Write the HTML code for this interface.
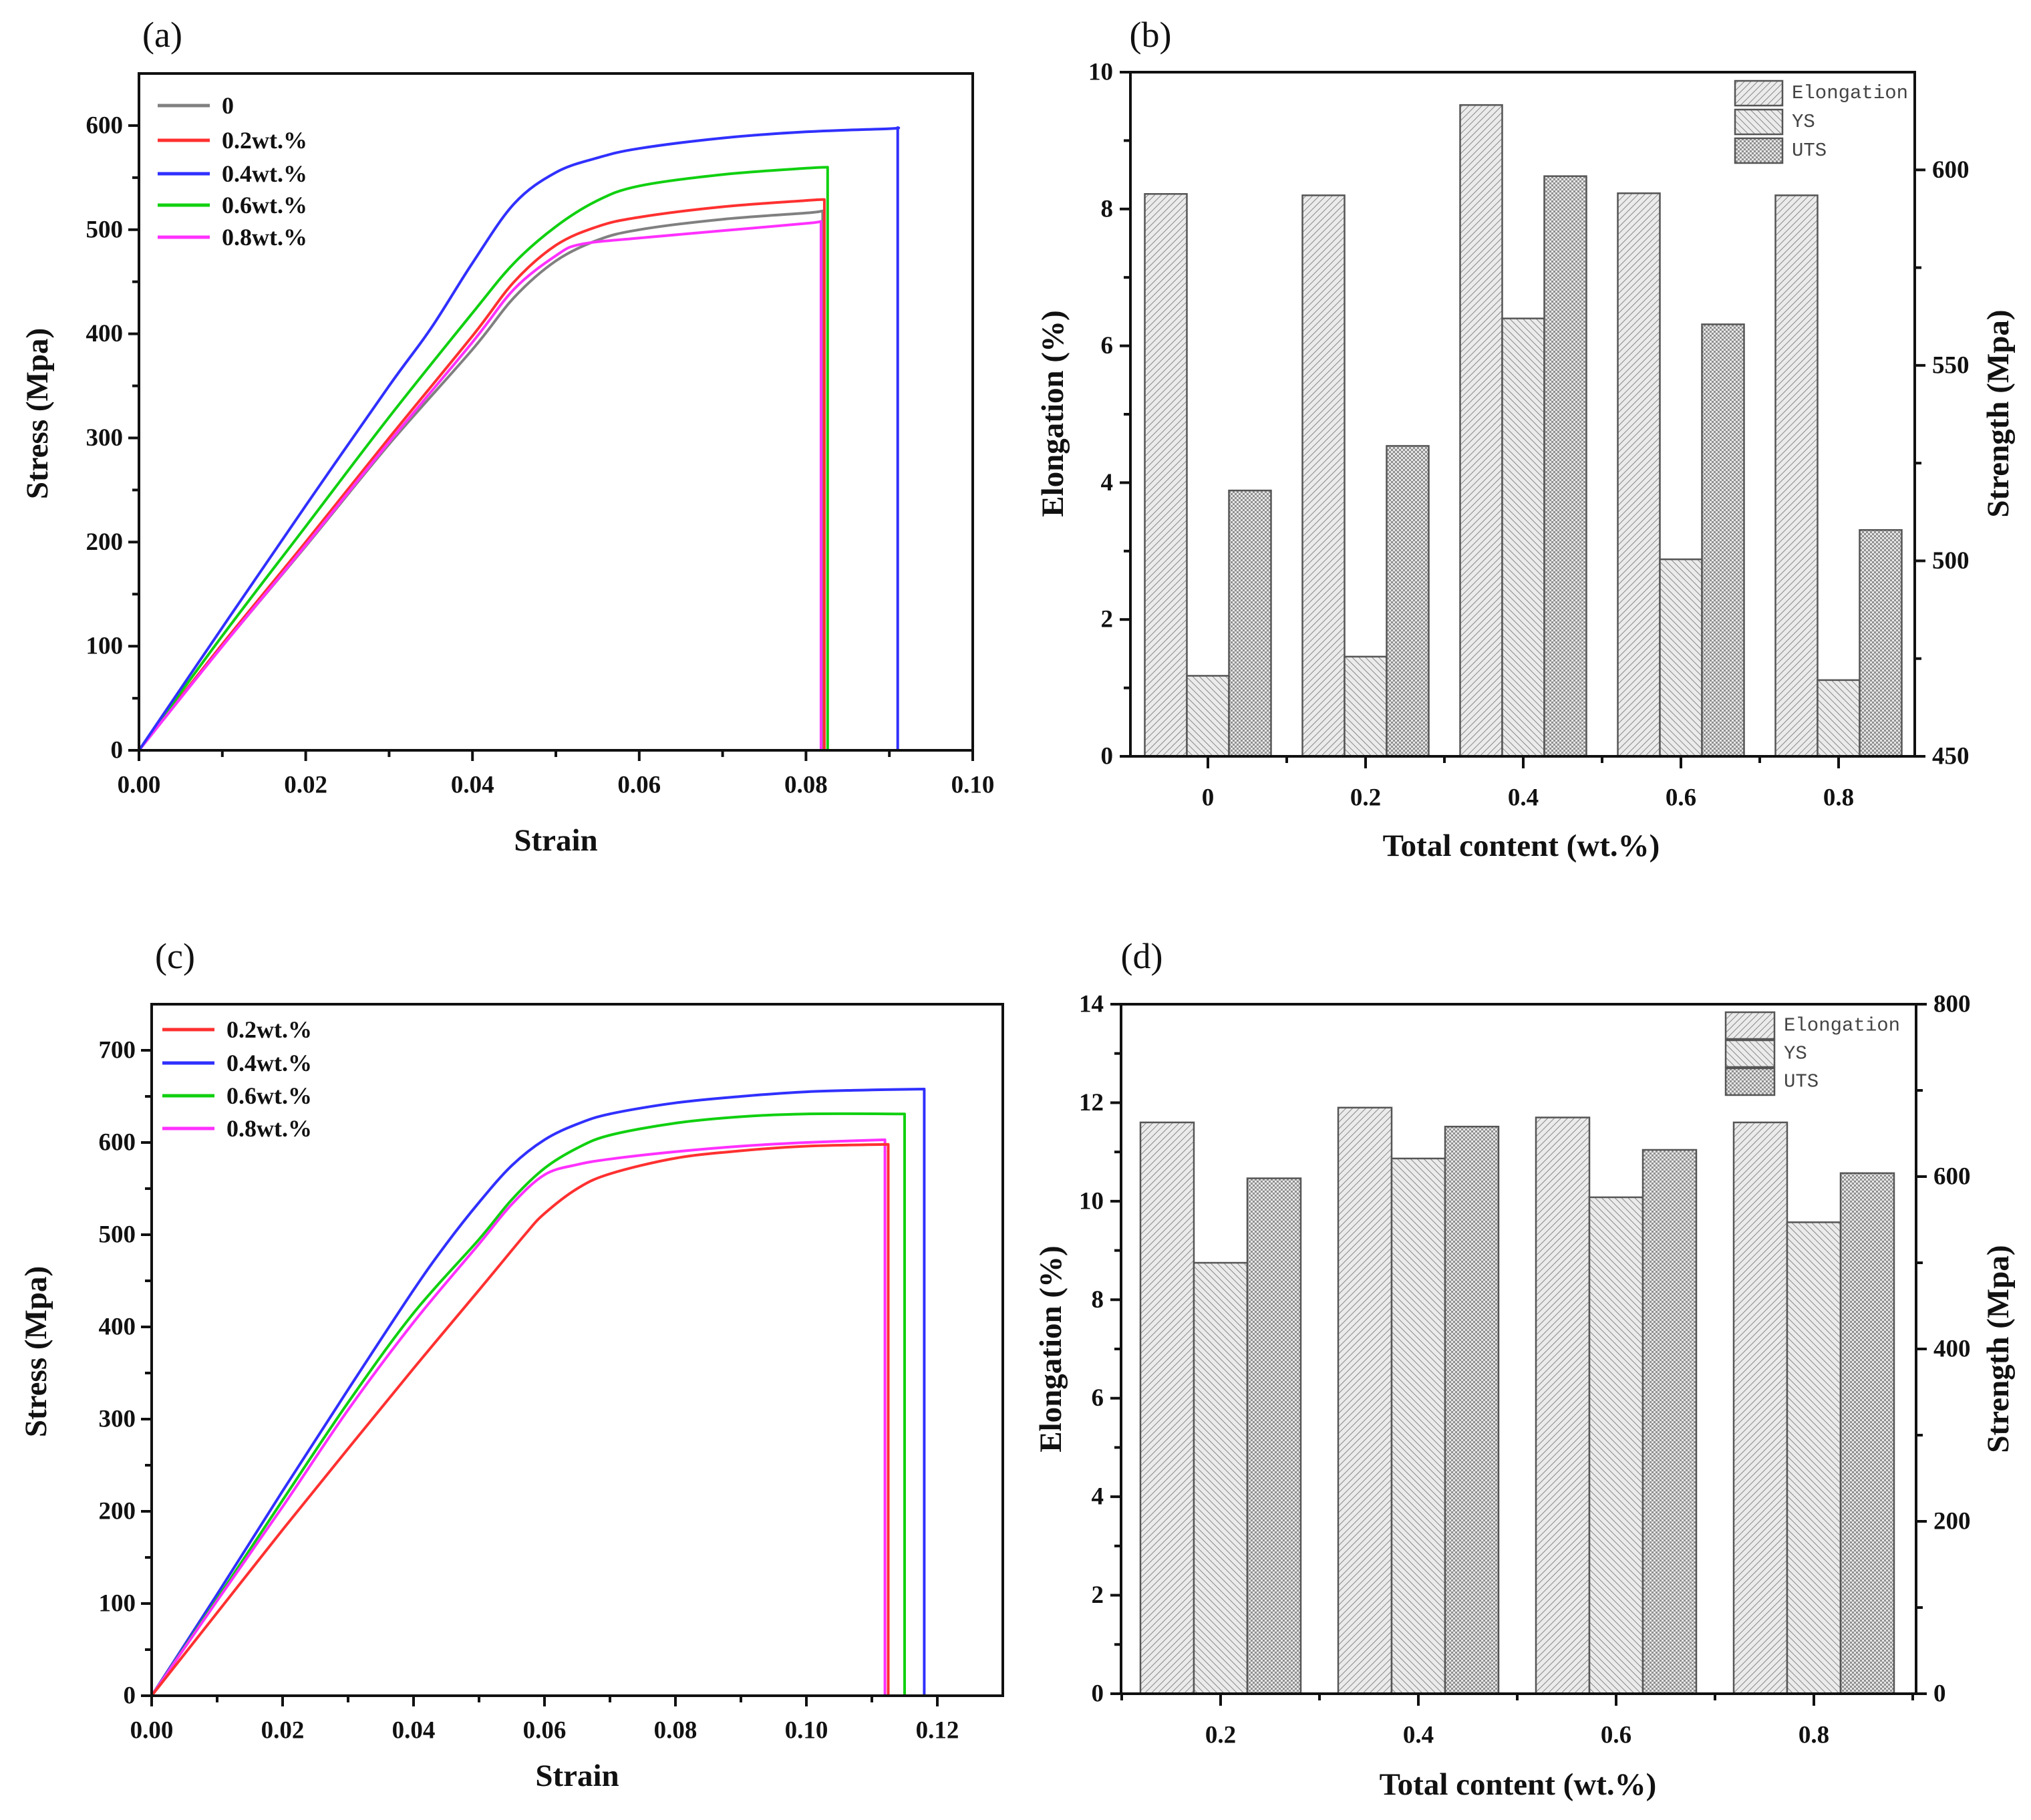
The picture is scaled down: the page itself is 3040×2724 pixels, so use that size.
<!DOCTYPE html>
<html><head><meta charset="utf-8"><style>
html,body{margin:0;padding:0;background:#fff}
svg{display:block}
text{font-family:"Liberation Serif",serif}
.tk{font-size:37px;font-weight:bold;fill:#111}
.ti{font-size:47px;font-weight:bold;fill:#111}
.lg{font-size:36px;font-weight:bold;fill:#111}
.pl{font-size:54px;fill:#111}
.bl{font-family:"Liberation Mono",monospace;font-size:29px;fill:#444}
</style></head><body>
<svg id="fig" width="3040" height="2724" viewBox="0 0 3040 2724" xmlns="http://www.w3.org/2000/svg">
<defs>
<pattern id="pElong" patternUnits="userSpaceOnUse" width="7" height="7" patternTransform="rotate(45)"><rect width="7" height="7" fill="#ebebeb"/><line x1="0" y1="0" x2="0" y2="7" stroke="#888" stroke-width="2"/></pattern>
<pattern id="pYS" patternUnits="userSpaceOnUse" width="7" height="7" patternTransform="rotate(-45)"><rect width="7" height="7" fill="#ebebeb"/><line x1="0" y1="0" x2="0" y2="7" stroke="#888" stroke-width="2"/></pattern>
<pattern id="pUTS" patternUnits="userSpaceOnUse" width="6" height="6"><rect width="6" height="6" fill="#e6e6e6"/><rect width="3" height="3" fill="#909090"/><rect x="3" y="3" width="3" height="3" fill="#909090"/></pattern>
</defs>
<g id="root"></g>
</svg>
<script>
// ---------- Panel (a) data ----------
const aSeriesNames = ["0","0.2wt.%","0.4wt.%","0.6wt.%","0.8wt.%"];
const aColors = ["#808080","#ff3030","#3030ff","#10d010","#ff30ff"];
const aStrain0 = [0,0.01,0.02,0.03,0.04,0.045,0.05,0.055,0.06,0.07,0.08,0.082,0.082];
const aStress0 = [0,100,196,294,385,435,470,490,500,510,516,518,0];
const aStrain02 = [0,0.01,0.02,0.03,0.04,0.045,0.05,0.055,0.06,0.07,0.08,0.0822,0.0822];
const aStress02 = [0,102,200,300,398,450,485,503,512,522,528,529,0];
const aStrain04 = [0,0.01,0.02,0.03,0.035,0.04,0.045,0.05,0.055,0.06,0.07,0.08,0.09,0.091,0.091];
const aStress04 = [0,118,235,350,405,468,525,555,569,578,588,594,597,598,0];
const aStrain06 = [0,0.01,0.02,0.03,0.04,0.045,0.05,0.055,0.06,0.07,0.08,0.0826,0.0826];
const aStress06 = [0,110,215,320,420,468,503,528,542,553,559,560,0];
const aStrain08 = [0,0.01,0.02,0.03,0.04,0.045,0.05,0.053,0.06,0.07,0.08,0.0818,0.0818];
const aStress08 = [0,100,197,296,392,443,475,486,492,499,506,508,0];
const aXTicks = ["0.00","0.02","0.04","0.06","0.08","0.10"];
const aYTicks = ["0","100","200","300","400","500","600"];
// ---------- Panel (c) data ----------
const cSeriesNames = ["0.2wt.%","0.4wt.%","0.6wt.%","0.8wt.%"];
const cColors = ["#ff3030","#3030ff","#10d010","#ff30ff"];
const cStrain02 = [0,0.01,0.02,0.03,0.04,0.05,0.057,0.06,0.065,0.07,0.08,0.09,0.1,0.1125,0.1125];
const cStress02 = [0,90,180,268,355,440,500,523,550,566,583,591,596,598,0];
const cStrain04 = [0,0.01,0.02,0.03,0.04,0.045,0.05,0.055,0.06,0.065,0.07,0.08,0.09,0.1,0.11,0.118,0.118];
const cStress04 = [0,110,222,332,440,490,535,575,603,620,631,643,650,655,657,658,0];
const cStrain06 = [0,0.01,0.02,0.03,0.04,0.05,0.055,0.06,0.065,0.07,0.08,0.09,0.1,0.115,0.115];
const cStress06 = [0,105,212,318,415,495,538,572,594,608,621,628,631,631,0];
const cStrain08 = [0,0.01,0.02,0.03,0.04,0.05,0.055,0.06,0.065,0.07,0.08,0.09,0.1,0.112,0.112];
const cStress08 = [0,103,205,310,405,490,533,565,576,582,590,596,600,603,0];
const cXTicks = ["0.00","0.02","0.04","0.06","0.08","0.10","0.12"];
const cYTicks = ["0","100","200","300","400","500","600","700"];
// ---------- Panel (b) data ----------
const bCategories = ["0","0.2","0.4","0.6","0.8"];
const bElongation = [8.22,8.2,9.52,8.23,8.2];
const bYS = [470.6,475.5,562,500.4,469.5];
const bUTS = [518,529.4,598.4,560.5,507.9];
const bLeftTicks = ["0","2","4","6","8","10"];
const bRightTicks = ["450","500","550","600"];
// ---------- Panel (d) data ----------
const dCategories = ["0.2","0.4","0.6","0.8"];
const dElongation = [11.6,11.9,11.7,11.6];
const dYS = [500,621,576,547];
const dUTS = [598,658,631,604];
const dLeftTicks = ["0","2","4","6","8","10","12","14"];
const dRightTicks = ["0","200","400","600","800"];

const NS="http://www.w3.org/2000/svg";
const root=document.getElementById('root');
function mk(tag,attrs,parent){const e=document.createElementNS(NS,tag);for(const k in attrs)e.setAttribute(k,attrs[k]);(parent||root).appendChild(e);return e;}
function txt(s,x,y,cls,anchor,parent,rot){const t=mk('text',{x:x,y:y,class:cls,'text-anchor':anchor||'middle','dominant-baseline':'central'},parent);if(rot)t.setAttribute('transform','rotate(-90 '+x+' '+y+')');t.textContent=s;return t;}
function smoothPath(P){
  const n=P.length-1;let d='M'+P[0][0].toFixed(1)+' '+P[0][1].toFixed(1);
  for(let i=0;i<n-1;i++){
    const p0=P[Math.max(0,i-1)],p1=P[i],p2=P[i+1],p3=P[Math.min(n-1,i+2)];
    const c1=[p1[0]+(p2[0]-p0[0])/6,p1[1]+(p2[1]-p0[1])/6];
    const c2=[p2[0]-(p3[0]-p1[0])/6,p2[1]-(p3[1]-p1[1])/6];
    d+=' C'+c1[0].toFixed(1)+' '+c1[1].toFixed(1)+' '+c2[0].toFixed(1)+' '+c2[1].toFixed(1)+' '+p2[0].toFixed(1)+' '+p2[1].toFixed(1);
  }
  d+=' L'+P[n][0].toFixed(1)+' '+P[n][1].toFixed(1);
  return d;
}

function linePanel(o){
  const g=mk('g',{});
  
  
  const sx=v=>o.L+(v-o.xmin)/(o.xmax-o.xmin)*(o.R-o.L);
  const sy=v=>o.B-(v-o.ymin)/(o.ymax-o.ymin)*(o.B-o.T);
  o.drawOrder.forEach(i=>{const s=o.series[i];
    const P=s.x.map((v,j)=>[sx(v),sy(s.y[j])]);
    const p=mk('path',{d:smoothPath(P),fill:'none',stroke:s.color,'stroke-width':4,'stroke-linejoin':'round'},g);
    
    
  });
  const f=mk('rect',{x:o.L,y:o.T,width:o.R-o.L,height:o.B-o.T,fill:'none',stroke:'#111','stroke-width':4},g);
  
  
  o.xTicks.forEach(lbl=>{const v=parseFloat(lbl),x=sx(v);
    mk('line',{x1:x,y1:o.B,x2:x,y2:o.B+16,stroke:'#111','stroke-width':4},g);
    const t=txt(lbl,x,o.B+52,'tk','middle',g);
    
    
  });
  for(let v=o.xmin+o.xminor;v<o.xmax-1e-9;v+=o.xminor*2){const x=sx(v);mk('line',{x1:x,y1:o.B,x2:x,y2:o.B+10,stroke:'#111','stroke-width':4},g);}
  o.yTicks.forEach(lbl=>{const v=parseFloat(lbl),y=sy(v);
    mk('line',{x1:o.L-16,y1:y,x2:o.L,y2:y,stroke:'#111','stroke-width':4},g);
    const t=txt(lbl,o.L-24,y,'tk','end',g);
    
    
  });
  for(let v=o.ymin+o.yminor;v<o.ymax;v+=o.yminor*2){const y=sy(v);mk('line',{x1:o.L-10,y1:y,x2:o.L,y2:y,stroke:'#111','stroke-width':4},g);}
  o.series.forEach((s,i)=>{const y=o.legY[i];
    const ln=mk('line',{x1:o.legX,y1:y,x2:o.legX+78,y2:y,stroke:s.color,'stroke-width':5},g);
    
    
    const t=txt(s.label,o.legX+96,y,'lg','start',g);
    
    
  });
  const xt=txt(o.xTitle,o.xtx,o.xty,'ti','middle',g);
  
  
  const yt=txt(o.yTitle,o.ytx,o.yty,'ti','middle',g,true);
  
  
  const pl=txt(o.label,o.plx,o.ply,'pl','middle',g);
  
  
}

function barPanel(o){
  const g=mk('g',{});
  
  
  const syL=v=>o.B-(v-o.lmin)/(o.lmax-o.lmin)*(o.B-o.T);
  const syR=v=>o.B-(v-o.rmin)/(o.rmax-o.rmin)*(o.B-o.T);
  const cx=i=>o.c0+i*o.step;
  o.cats.forEach((c,i)=>{
    const x=cx(i),w=o.bw;
    const specs=[[x-1.5*w,syL(o.el[i]),'pElong','elongation'],[x-0.5*w,syR(o.ys[i]),'pYS','ys'],[x+0.5*w,syR(o.uts[i]),'pUTS','uts']];
    specs.forEach(s=>{
      const r=mk('rect',{x:s[0],y:s[1],width:w,height:o.B-s[1],fill:'url(#'+s[2]+')',stroke:'#555','stroke-width':2.5},g);
      
      
    });
    mk('line',{x1:x,y1:o.B,x2:x,y2:o.B+18,stroke:'#111','stroke-width':4},g);
    const t=txt(c,x,o.B+62,'tk','middle',g);
    
    
  });
  for(let i=-0.5;i<o.cats.length;i+=1){const x=cx(i);if(x>o.L&&x<o.R)mk('line',{x1:x,y1:o.B,x2:x,y2:o.B+10,stroke:'#111','stroke-width':4},g);}
  const f=mk('rect',{x:o.L,y:o.T,width:o.R-o.L,height:o.B-o.T,fill:'none',stroke:'#111','stroke-width':4},g);
  
  
  const ls=parseFloat(o.lTicks[1])-parseFloat(o.lTicks[0]);
  o.lTicks.forEach(lbl=>{const v=parseFloat(lbl),y=syL(v);
    mk('line',{x1:o.L-16,y1:y,x2:o.L,y2:y,stroke:'#111','stroke-width':4},g);
    if(v+ls/2<o.lmax)mk('line',{x1:o.L-10,y1:syL(v+ls/2),x2:o.L,y2:syL(v+ls/2),stroke:'#111','stroke-width':4},g);
    const t=txt(lbl,o.L-26,y,'tk','end',g);
    
    
  });
  const rs=parseFloat(o.rTicks[1])-parseFloat(o.rTicks[0]);
  o.rTicks.forEach(lbl=>{const v=parseFloat(lbl),y=syR(v);
    mk('line',{x1:o.R,y1:y,x2:o.R+16,y2:y,stroke:'#111','stroke-width':4},g);
    if(syR(v+rs/2)>o.T)mk('line',{x1:o.R,y1:syR(v+rs/2),x2:o.R+10,y2:syR(v+rs/2),stroke:'#111','stroke-width':4},g);
    const t=txt(lbl,o.R+26,y,'tk','start',g);
    
    
  });
  const names=['Elongation','YS','UTS'],pats=['pElong','pYS','pUTS'];
  names.forEach((n,i)=>{const y=o.legY[i];
    const r=mk('rect',{x:o.legX,y:y,width:o.legW,height:o.legH,fill:'url(#'+pats[i]+')',stroke:'#555','stroke-width':2.5},g);
    
    
    const t=txt(n,o.legX+o.legW+14,y+o.legH/2,'bl','start',g);
    
    
  });
  const xt=txt('Total content (wt.%)',o.xtx,o.xty,'ti','middle',g);
  
  
  const yl=txt('Elongation (%)',o.ylx,o.yty,'ti','middle',g,true);
  
  
  const yr=txt('Strength (Mpa)',o.yrx,o.yty,'ti','middle',g,true);
  
  
  const pl=txt(o.label,o.plx,o.ply,'pl','middle',g);
  
  
}

linePanel({name:'panel-a-stress-strain',label:'(a)',plx:243,ply:52,L:208,R:1456,T:110,B:1123,xmin:0,xmax:0.10,ymin:0,ymax:650,xminor:0.01,yminor:50,
  xTicks:aXTicks,yTicks:aYTicks,xTitle:'Strain',yTitle:'Stress (Mpa)',xtx:832,xty:1258,ytx:56,yty:619,
  legX:236,legY:[158,210,260,307,355],drawOrder:[0,1,3,4,2],
  series:[{label:aSeriesNames[0],color:aColors[0],x:aStrain0,y:aStress0},{label:aSeriesNames[1],color:aColors[1],x:aStrain02,y:aStress02},{label:aSeriesNames[2],color:aColors[2],x:aStrain04,y:aStress04},{label:aSeriesNames[3],color:aColors[3],x:aStrain06,y:aStress06},{label:aSeriesNames[4],color:aColors[4],x:aStrain08,y:aStress08}]
});
linePanel({name:'panel-c-stress-strain',label:'(c)',plx:262,ply:1431,L:227,R:1501,T:1503,B:2538,xmin:0,xmax:0.13,ymin:0,ymax:750,xminor:0.01,yminor:50,
  xTicks:cXTicks,yTicks:cYTicks,xTitle:'Strain',yTitle:'Stress (Mpa)',xtx:864,xty:2658,ytx:54,yty:2023,
  legX:243,legY:[1541,1591,1640,1689],drawOrder:[1,2,3,0],
  series:[{label:cSeriesNames[0],color:cColors[0],x:cStrain02,y:cStress02},{label:cSeriesNames[1],color:cColors[1],x:cStrain04,y:cStress04},{label:cSeriesNames[2],color:cColors[2],x:cStrain06,y:cStress06},{label:cSeriesNames[3],color:cColors[3],x:cStrain08,y:cStress08}]
});
barPanel({name:'panel-b-bar-chart',label:'(b)',plx:1722,ply:52,L:1692,R:2866,T:108,B:1132,lmin:0,lmax:10,rmin:450,rmax:625,
  c0:1808,step:236,bw:63,cats:bCategories,el:bElongation,ys:bYS,uts:bUTS,lTicks:bLeftTicks,rTicks:bRightTicks,
  legX:2597,legW:71,legH:37,legY:[121,164,207],xtx:2277,xty:1266,ylx:1576,yrx:2991,yty:619});
barPanel({name:'panel-d-bar-chart',label:'(d)',plx:1709,ply:1431,L:1678,R:2868,T:1503,B:2535,lmin:0,lmax:14,rmin:0,rmax:800,
  c0:1827,step:296,bw:80,cats:dCategories,el:dElongation,ys:dYS,uts:dUTS,lTicks:dLeftTicks,rTicks:dRightTicks,
  legX:2583,legW:73,legH:40,legY:[1515,1557,1599],xtx:2272,xty:2671,ylx:1573,yrx:2991,yty:2019});
</script>
</body></html>
